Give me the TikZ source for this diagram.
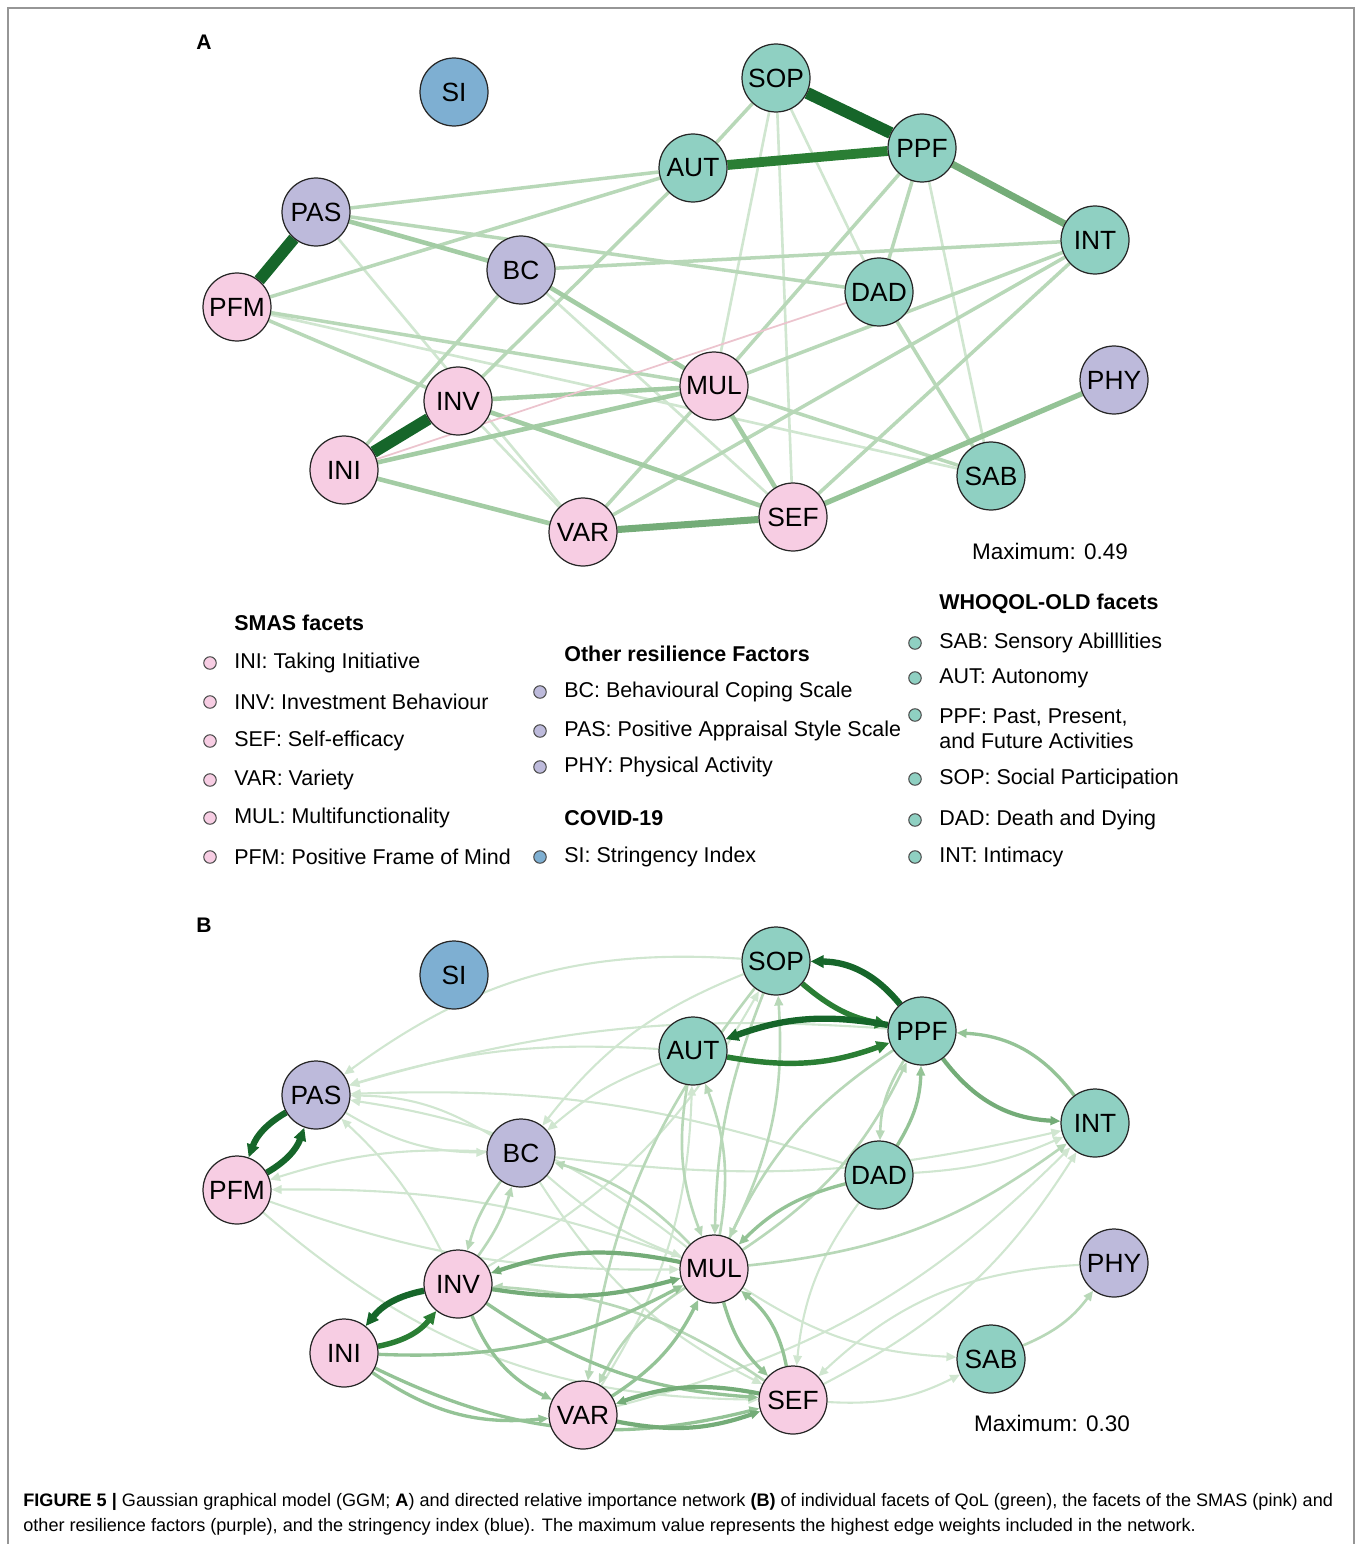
\documentclass[tikz,border=0pt]{standalone}
\usepackage{fontspec}
\setmainfont{Liberation Sans}
\usetikzlibrary{arrows.meta}
\pgfdeclarelayer{edges}
\pgfsetlayers{edges,main}

\definecolor{smaspink}{RGB}{247,205,227}
\definecolor{respurple}{RGB}{189,186,219}
\definecolor{qolgreen}{RGB}{143,208,194}
\definecolor{siblue}{RGB}{126,175,210}
\definecolor{gA}{RGB}{22,102,42}
\definecolor{gAA}{RGB}{42,126,52}
\definecolor{gB}{RGB}{116,172,120}
\definecolor{gC}{RGB}{148,195,150}
\definecolor{gD}{RGB}{163,204,164}
\definecolor{gE}{RGB}{184,216,184}
\definecolor{gF}{RGB}{208,230,208}
\definecolor{negpink}{RGB}{236,196,206}
\definecolor{framegray}{RGB}{150,150,150}

\begin{document}
\begin{tikzpicture}[x=0.02cm,y=-0.02cm,
facet/.style={circle, draw=black!85, line width=0.7pt, minimum size=1.36cm, inner sep=0pt, font=\fontsize{15}{15}\selectfont},
key/.style={circle, draw=black!70, line width=0.6pt, minimum size=0.25cm, inner sep=0pt},
legtext/.style={anchor=west, align=left, inner xsep=0pt, font=\fontsize{12.2}{14.2}\selectfont},
leghead/.style={anchor=west, inner xsep=0pt, font=\fontsize{12.2}{14.2}\selectfont\bfseries},
maxtext/.style={font=\fontsize{12.8}{14}\selectfont},
panel/.style={font=\fontsize{12}{14}\selectfont\bfseries},
captext/.style={anchor=west, inner xsep=0pt, font=\fontsize{10.3}{12}\selectfont},
e1/.style={draw=gA, line width=6.8pt},
e2/.style={draw=gAA, line width=5.6pt},
e3/.style={draw=gB, line width=4pt},
e4/.style={draw=gC, line width=3pt},
e5/.style={draw=gD, line width=2.6pt},
e6/.style={draw=gE, line width=2pt},
e7/.style={draw=gF, line width=1.5pt},
eneg/.style={draw=negpink, line width=1pt},
arr/.style={-{Triangle[length=0.2cm,width=0.17cm]}},
bigarr/.style={-{Triangle[length=0.26cm,width=0.24cm]}},
f1/.style={bigarr, draw=gA, line width=3.6pt},
f2/.style={bigarr, draw=gAA, line width=3.1pt},
f3/.style={arr, draw=gB, line width=2.4pt},
f4/.style={arr, draw=gC, line width=1.9pt},
f5/.style={arr, draw=gE, line width=1.5pt},
f6/.style={arr, draw=gF, line width=1.2pt}
]
\useasboundingbox (0,0) rectangle (1356,1544);
\draw[framegray, line width=0.8pt] (8,1544) -- (8,8) -- (1354,8) -- (1354,1544);

% nodes of both networks
\foreach \p/\dy in {a/0,b/883}{
  \foreach \n/\x/\y/\c in {SI/454/92/siblue, SOP/776/78/qolgreen, PPF/922/148/qolgreen,
      AUT/693/168/qolgreen, INT/1095/240/qolgreen, PAS/316/212/respurple, BC/521/270/respurple,
      DAD/879/292/qolgreen, PFM/237/307/smaspink, PHY/1114/380/respurple, MUL/714/386/smaspink,
      INV/458/401/smaspink, INI/344/470/smaspink, SAB/991/476/qolgreen, SEF/793/517/smaspink,
      VAR/583/532/smaspink}
    \node[facet, fill=\c] (\p\n) at (\x,\y+\dy) {\n};
}

\node[panel] (labA) at (204,42) {A};
\node[panel] (labB) at (204,925) {B};
\node[maxtext] (maxA) at (1050,551) {Maximum: 0.49};
\node[maxtext] (maxB) at (1052,1423) {Maximum: 0.30};

% A: partial correlations
\begin{pgfonlayer}{edges}
\foreach \u/\v/\s in {PPF/SAB/e7, SOP/MUL/e7, SOP/SEF/e7, SOP/DAD/e7, PAS/VAR/e7, INV/VAR/e7,
    BC/SEF/e7, PFM/SAB/e7, MUL/SAB/e6,
    PAS/DAD/e6, PAS/AUT/e6, PFM/AUT/e6, BC/INI/e6, INV/AUT/e6, MUL/VAR/e6, MUL/PPF/e6,
    PPF/DAD/e6, PFM/INV/e6, SOP/AUT/e6, MUL/INT/e6, VAR/INT/e6, SEF/INT/e6, BC/INT/e6,
    DAD/SAB/e6, PFM/MUL/e6,
    INV/MUL/e5, INI/MUL/e5, INV/SEF/e5, INI/VAR/e5, PAS/BC/e5, BC/MUL/e5, MUL/SEF/e5,
    SEF/PHY/e4, PPF/INT/e3, VAR/SEF/e3, AUT/PPF/e2,
    SOP/PPF/e1, PAS/PFM/e1, INI/INV/e1}
  \draw[\s] (a\u) -- (a\v);
\draw[eneg] (aINI) -- (aDAD);

% B: directed relative importance
\foreach \u/\v/\s/\k in {PFM/SEF/f6/20, INV/PAS/f6/10, SOP/PAS/f6/20, AUT/PAS/f6/10,
    PPF/PAS/f6/10, BC/PAS/f6/15, MUL/PAS/f6/15, DAD/PAS/f6/10, BC/PFM/f6/10, MUL/PFM/f6/10,
    PFM/MUL/f6/10, AUT/BC/f6/10, SOP/BC/f6/15, BC/SEF/f6/15, BC/MUL/f6/10, PHY/SEF/f6/20,
    INV/SOP/f6/15, VAR/AUT/f6/15, DAD/INT/f6/10, SEF/INT/f6/15, BC/INT/f6/10, MUL/SAB/f6/15,
    SEF/SAB/f6/15, PAS/BC/f6/15, DAD/SEF/f6/15, VAR/INT/f6/15,
    PPF/DAD/f5/15, MUL/PPF/f5/15, PPF/MUL/f5/15, SOP/MUL/f5/10, MUL/SOP/f5/15, AUT/MUL/f5/15,
    MUL/AUT/f5/15, SOP/VAR/f5/15, MUL/INT/f5/15, BC/INV/f5/10, INV/BC/f5/10, MUL/BC/f5/15,
    SAB/PHY/f5/15, SEF/INV/f5/15, MUL/VAR/f5/15,
    INI/SEF/f4/20, INI/MUL/f4/15, INI/VAR/f4/20, INV/VAR/f4/20, INV/SEF/f4/15, MUL/SEF/f4/15,
    SEF/MUL/f4/20, VAR/MUL/f4/15, DAD/MUL/f4/15, DAD/PPF/f4/15, INT/PPF/f4/25,
    MUL/INV/f3/15, INV/MUL/f3/12, SEF/VAR/f3/15, VAR/SEF/f3/15, PPF/INT/f3/25,
    SOP/PPF/f2/15, AUT/PPF/f2/15, INI/INV/f2/20,
    PPF/SOP/f1/25, PPF/AUT/f1/15, PAS/PFM/f1/20, PFM/PAS/f1/20, INV/INI/f1/20}
  \draw[\s] (b\u) to[bend right=\k] (b\v);
\end{pgfonlayer}

% legend
\node[leghead] (hSMAS) at (234,623) {SMAS facets};
\foreach \y/\t in {663/INI: Taking Initiative, 702/INV: Investment Behaviour, 741/SEF: Self-efficacy,
    780/VAR: Variety, 818/MUL: Multifunctionality, 857/PFM: Positive Frame of Mind}{
  \node[key, fill=smaspink] at (210,\y) {};
  \node[legtext] at (234,\y) {\t};
}
\node[leghead] (hRes) at (564,654) {Other resilience Factors};
\foreach \y/\t in {692/BC: Behavioural Coping Scale, 731/PAS: Positive Appraisal Style Scale,
    767/PHY: Physical Activity}{
  \node[key, fill=respurple] at (540,\y) {};
  \node[legtext] at (564,\y) {\t};
}
\node[leghead] (hCov) at (564,818) {COVID-19};
\node[key, fill=siblue] (kSI) at (540,857) {};
\node[legtext] (tSI) at (564,857) {SI: Stringency Index};
\node[leghead] (hQoL) at (939,604) {WHOQOL-OLD facets};
\foreach \y/\t in {643/SAB: Sensory Abilllities, 678/AUT: Autonomy, 779/SOP: Social Participation,
    820/DAD: Death and Dying, 857/INT: Intimacy}{
  \node[key, fill=qolgreen] at (915,\y) {};
  \node[legtext] at (939,\y) {\t};
}
\node[key, fill=qolgreen] (kPPF) at (915,715) {};
\node[legtext] (tPPF) at (939,728.5) {PPF: Past, Present,\\and Future Activities};

% caption
\node[captext] (cap1) at (23,1502) {\textbf{FIGURE 5} \textbf{|} Gaussian graphical model (GGM; \textbf{A}) and directed relative importance network \textbf{(B)} of individual facets of QoL (green), the facets of the SMAS (pink) and};
\node[captext] (cap2) at (23,1527) {other resilience factors (purple), and the stringency index (blue). The maximum value represents the highest edge weights included in the network.};
\end{tikzpicture}
\end{document}
